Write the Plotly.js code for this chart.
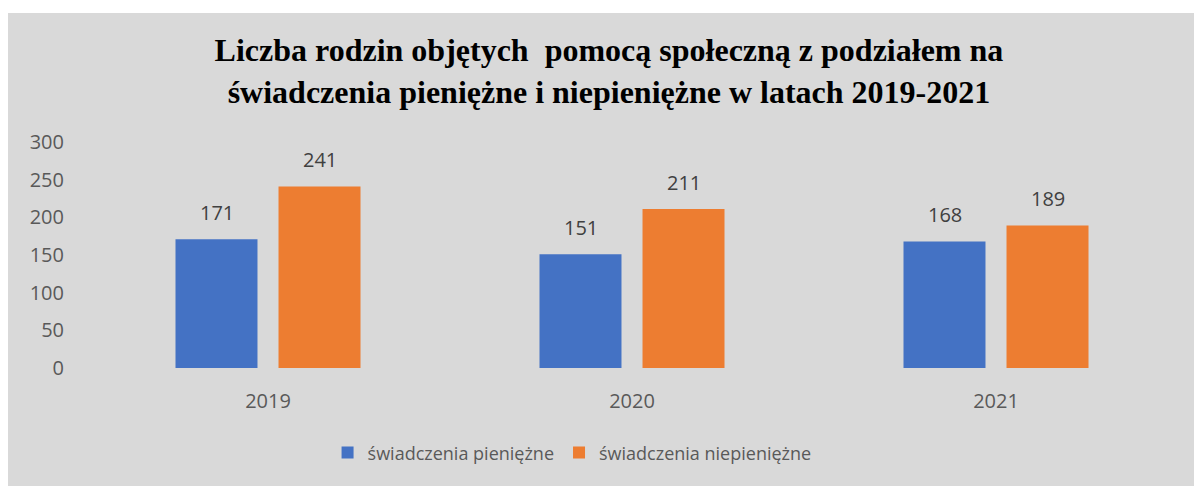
<!DOCTYPE html>
<html><head><meta charset="utf-8">
<script src="https://cdn.plot.ly/plotly-3.0.1.min.js"></script>
<style>
html,body{margin:0;padding:0;background:#ffffff;}
#chart{position:absolute;left:8px;top:13px;width:1186px;height:473px;}
</style></head>
<body><div id="chart"></div>
<script>
const years = ['2019', '2020', '2021'];
const seriesNames = ['świadczenia pieniężne', 'świadczenia niepieniężne'];
const pieniezne = [171, 151, 168];
const niepieniezne = [241, 211, 189];
const yTicks = [0, 50, 100, 150, 200, 250, 300];
const titleText = 'Liczba rodzin objętych  pomocą społeczną z podziałem na<br>świadczenia pieniężne i niepieniężne w latach 2019-2021';

const colors = ['#4472C4', '#ED7D31'];
const allSeries = [pieniezne, niepieniezne];

const traces = allSeries.map((vals, i) => ({
  type: 'bar', x: years, y: vals, name: seriesNames[i],
  marker: {color: colors[i]}, hoverinfo: 'none'
}));

const annotations = [];
allSeries.forEach((vals, i) => {
  vals.forEach((v, j) => {
    annotations.push({
      x: j, y: v, xref: 'x', yref: 'y', text: String(v), showarrow: false,
      xshift: i === 0 ? -51.5 : 51.5, yshift: 27, yanchor: 'middle',
      font: {family: 'Open Sans', size: 20, color: '#404040'}
    });
  });
});

const layout = {
  width: 1186, height: 473,
  paper_bgcolor: '#d9d9d9', plot_bgcolor: '#d9d9d9',
  margin: {l: 78, r: 16, t: 129, b: 118},
  title: {
    text: titleText, xref: 'container', x: 0.5067, xanchor: 'center',
    yref: 'container', y: 0.898, yanchor: 'top',
    font: {family: 'Liberation Serif', size: 32, color: '#000000', weight: 'bold'}
  },
  bargap: 0.434, bargroupgap: 0.204,
  xaxis: {
    type: 'category', range: [-0.5, 2.5], autorange: false,
    showgrid: false, zeroline: false, showline: false, ticks: '',
    tickfont: {family: 'Open Sans', size: 20, color: '#595959'}, ticklabelstandoff: 19
  },
  yaxis: {
    range: [0, 300], autorange: false, tickvals: yTicks, showgrid: false, zeroline: false, showline: false,
    ticks: '', tickfont: {family: 'Open Sans', size: 20, color: '#595959'}, ticklabelstandoff: 21
  },
  showlegend: true,
  legend: {
    orientation: 'h', xref: 'container', x: 0.4756, xanchor: 'center',
    yref: 'container', y: 0.07, yanchor: 'middle',
    font: {family: 'Open Sans', size: 18, color: '#595959'}, bgcolor: 'rgba(0,0,0,0)'
  },
  annotations: annotations
};

Plotly.newPlot('chart', traces, layout, {displayModeBar: false, staticPlot: true});
</script></body></html>
